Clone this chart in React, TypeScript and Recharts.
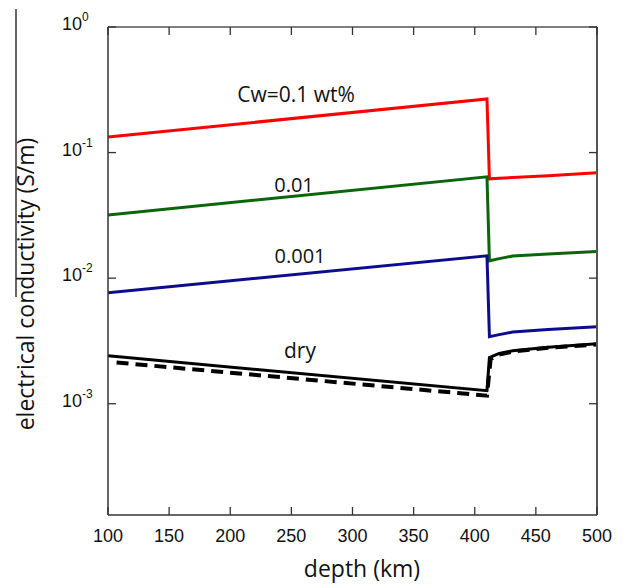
import { LineChart, Line, XAxis, YAxis } from "recharts";

if (typeof document !== "undefined") document.body.style.margin = "0";

// depth (km) along the x axis
const depthTicks = [100, 150, 200, 250, 300, 350, 400, 450, 500];
// decade ticks on the log conductivity axis
const sigmaTicks = [1e-3, 1e-2, 1e-1, 1];

// curves: S/m vs depth
const depthWet = [100, 410, 412, 420, 431, 460, 500];
const sigmaCw01 = [0.133, 0.267, 0.0618, 0.0624, 0.0632, 0.0655, 0.069];
const sigmaCw001 = [0.0319, 0.0641, 0.01375, 0.0143, 0.015, 0.0156, 0.0163];
const sigmaCw0001 = [0.00766, 0.01507, 0.00342, 0.00355, 0.00372, 0.0039, 0.0041];
const sigmaDry = [0.00241, 0.00127, 0.00233, 0.00252, 0.00264, 0.00282, 0.003];

const depthDryAlt = [107, 410, 413, 420, 431, 460, 500];
const sigmaDryAlt = [0.00213, 0.00116, 0.00226, 0.00246, 0.0026, 0.00279, 0.00296];

const toPoints = (depths: number[], sigmas: number[]) =>
  depths.map((depth, i) => ({ depth, sigma: sigmas[i] }));

const axisColor = "#333";
const tickFont = "'Liberation Sans', Arial, sans-serif";
const labelFont = "'Open Sans', 'Noto Sans', sans-serif";

type TickProps = { x?: number; y?: number; payload?: { value?: number } };

function DepthTick({ x = 0, y = 0, payload }: TickProps) {
  return (
    <g>
      <line x1={x} y1={y} x2={x} y2={y - 8} stroke={axisColor} strokeWidth={1.3} />
      <text x={x} y={y + 27} textAnchor="middle" fontSize={18} fontFamily={tickFont} fill="#111">
        {payload?.value}
      </text>
    </g>
  );
}

function TopTick({ x = 0, y = 0 }: TickProps) {
  return <line x1={x} y1={y} x2={x} y2={y + 8} stroke={axisColor} strokeWidth={1.3} />;
}

function SigmaTick({ x = 0, y = 0, payload }: TickProps) {
  const exp = Math.round(Math.log10(payload?.value ?? 1));
  return (
    <g>
      <line x1={x} y1={y} x2={x + 8} y2={y} stroke={axisColor} strokeWidth={1.3} />
      <text x={x - 46} y={y + 3} fontSize={18} fontFamily={tickFont} fill="#111">
        10
        <tspan dy={-9} fontSize={12}>
          {exp}
        </tspan>
      </text>
    </g>
  );
}

function RightTick({ x = 0, y = 0 }: TickProps) {
  return <line x1={x} y1={y} x2={x - 8} y2={y} stroke={axisColor} strokeWidth={1.3} />;
}

export default function App() {
  const redPoints = toPoints(depthWet, sigmaCw01);
  return (
    <div style={{ position: "relative", width: 625, height: 586, background: "#fff" }}>
      <LineChart width={625} height={586} margin={{ top: 26, right: 27, bottom: 0, left: 0 }}>
        <XAxis
          dataKey="depth"
          type="number"
          domain={[100, 500]}
          ticks={depthTicks}
          interval={0}
          height={71}
          tickSize={0}
          tickMargin={0}
          tickLine={false}
          axisLine={{ stroke: axisColor, strokeWidth: 1.5 }}
          tick={DepthTick}
          allowDataOverflow
        />
        <XAxis
          xAxisId="top"
          dataKey="depth"
          orientation="top"
          type="number"
          domain={[100, 500]}
          ticks={depthTicks}
          interval={0}
          height={1}
          tickSize={0}
          tickMargin={0}
          tickLine={false}
          axisLine={{ stroke: "#555", strokeWidth: 1.5 }}
          tick={TopTick}
          allowDataOverflow
        />
        <YAxis
          dataKey="sigma"
          scale="log"
          type="number"
          domain={[1.3e-4, 1]}
          ticks={sigmaTicks}
          interval={0}
          width={108}
          tickSize={0}
          tickMargin={0}
          tickLine={false}
          axisLine={{ stroke: axisColor, strokeWidth: 1.5 }}
          tick={SigmaTick}
          allowDataOverflow
        />
        <YAxis
          yAxisId="right"
          dataKey="sigma"
          orientation="right"
          scale="log"
          type="number"
          domain={[1.3e-4, 1]}
          ticks={sigmaTicks}
          interval={0}
          width={1}
          tickSize={0}
          tickMargin={0}
          tickLine={false}
          axisLine={{ stroke: "#555", strokeWidth: 2 }}
          tick={RightTick}
          allowDataOverflow
        />
        {/* invisible copy so the frame axes (top / right) get drawn */}
        <Line
          data={redPoints}
          xAxisId="top"
          yAxisId="right"
          dataKey="sigma"
          stroke="none"
          dot={false}
          activeDot={false}
          isAnimationActive={false}
        />
        <Line
          data={redPoints}
          dataKey="sigma"
          stroke="#ff0000"
          strokeWidth={3}
          dot={false}
          isAnimationActive={false}
        />
        <Line
          data={toPoints(depthWet, sigmaCw001)}
          dataKey="sigma"
          stroke="#0b650b"
          strokeWidth={3}
          dot={false}
          isAnimationActive={false}
        />
        <Line
          data={toPoints(depthWet, sigmaCw0001)}
          dataKey="sigma"
          stroke="#0c0c8c"
          strokeWidth={3}
          dot={false}
          isAnimationActive={false}
        />
        <Line
          data={toPoints(depthDryAlt, sigmaDryAlt)}
          dataKey="sigma"
          stroke="#000"
          strokeWidth={4}
          strokeDasharray="12 7"
          dot={false}
          isAnimationActive={false}
        />
        <Line
          data={toPoints(depthWet, sigmaDry)}
          dataKey="sigma"
          stroke="#000"
          strokeWidth={3}
          dot={false}
          isAnimationActive={false}
        />
      </LineChart>
      <div
        style={{ position: "absolute", left: 15, top: 9, width: 2, height: 288, background: "#666" }}
      />
      <svg
        width={625}
        height={586}
        style={{ position: "absolute", left: 0, top: 0, pointerEvents: "none" }}
      >
        <g fontFamily={labelFont} fill="#111" textAnchor="middle">
          <text x={296} y={102} fontSize={21}>Cw=0.1 wt%</text>
          <text x={294} y={192} fontSize={20}>0.01</text>
          <text x={300} y={263} fontSize={20}>0.001</text>
          <text x={300} y={358} fontSize={21}>dry</text>
          <text x={362} y={577} fontSize={23}>depth (km)</text>
          <text x={0} y={0} fontSize={23} transform="translate(34,284) rotate(-90)">
            electrical conductivity (S/m)
          </text>
        </g>
      </svg>
    </div>
  );
}
